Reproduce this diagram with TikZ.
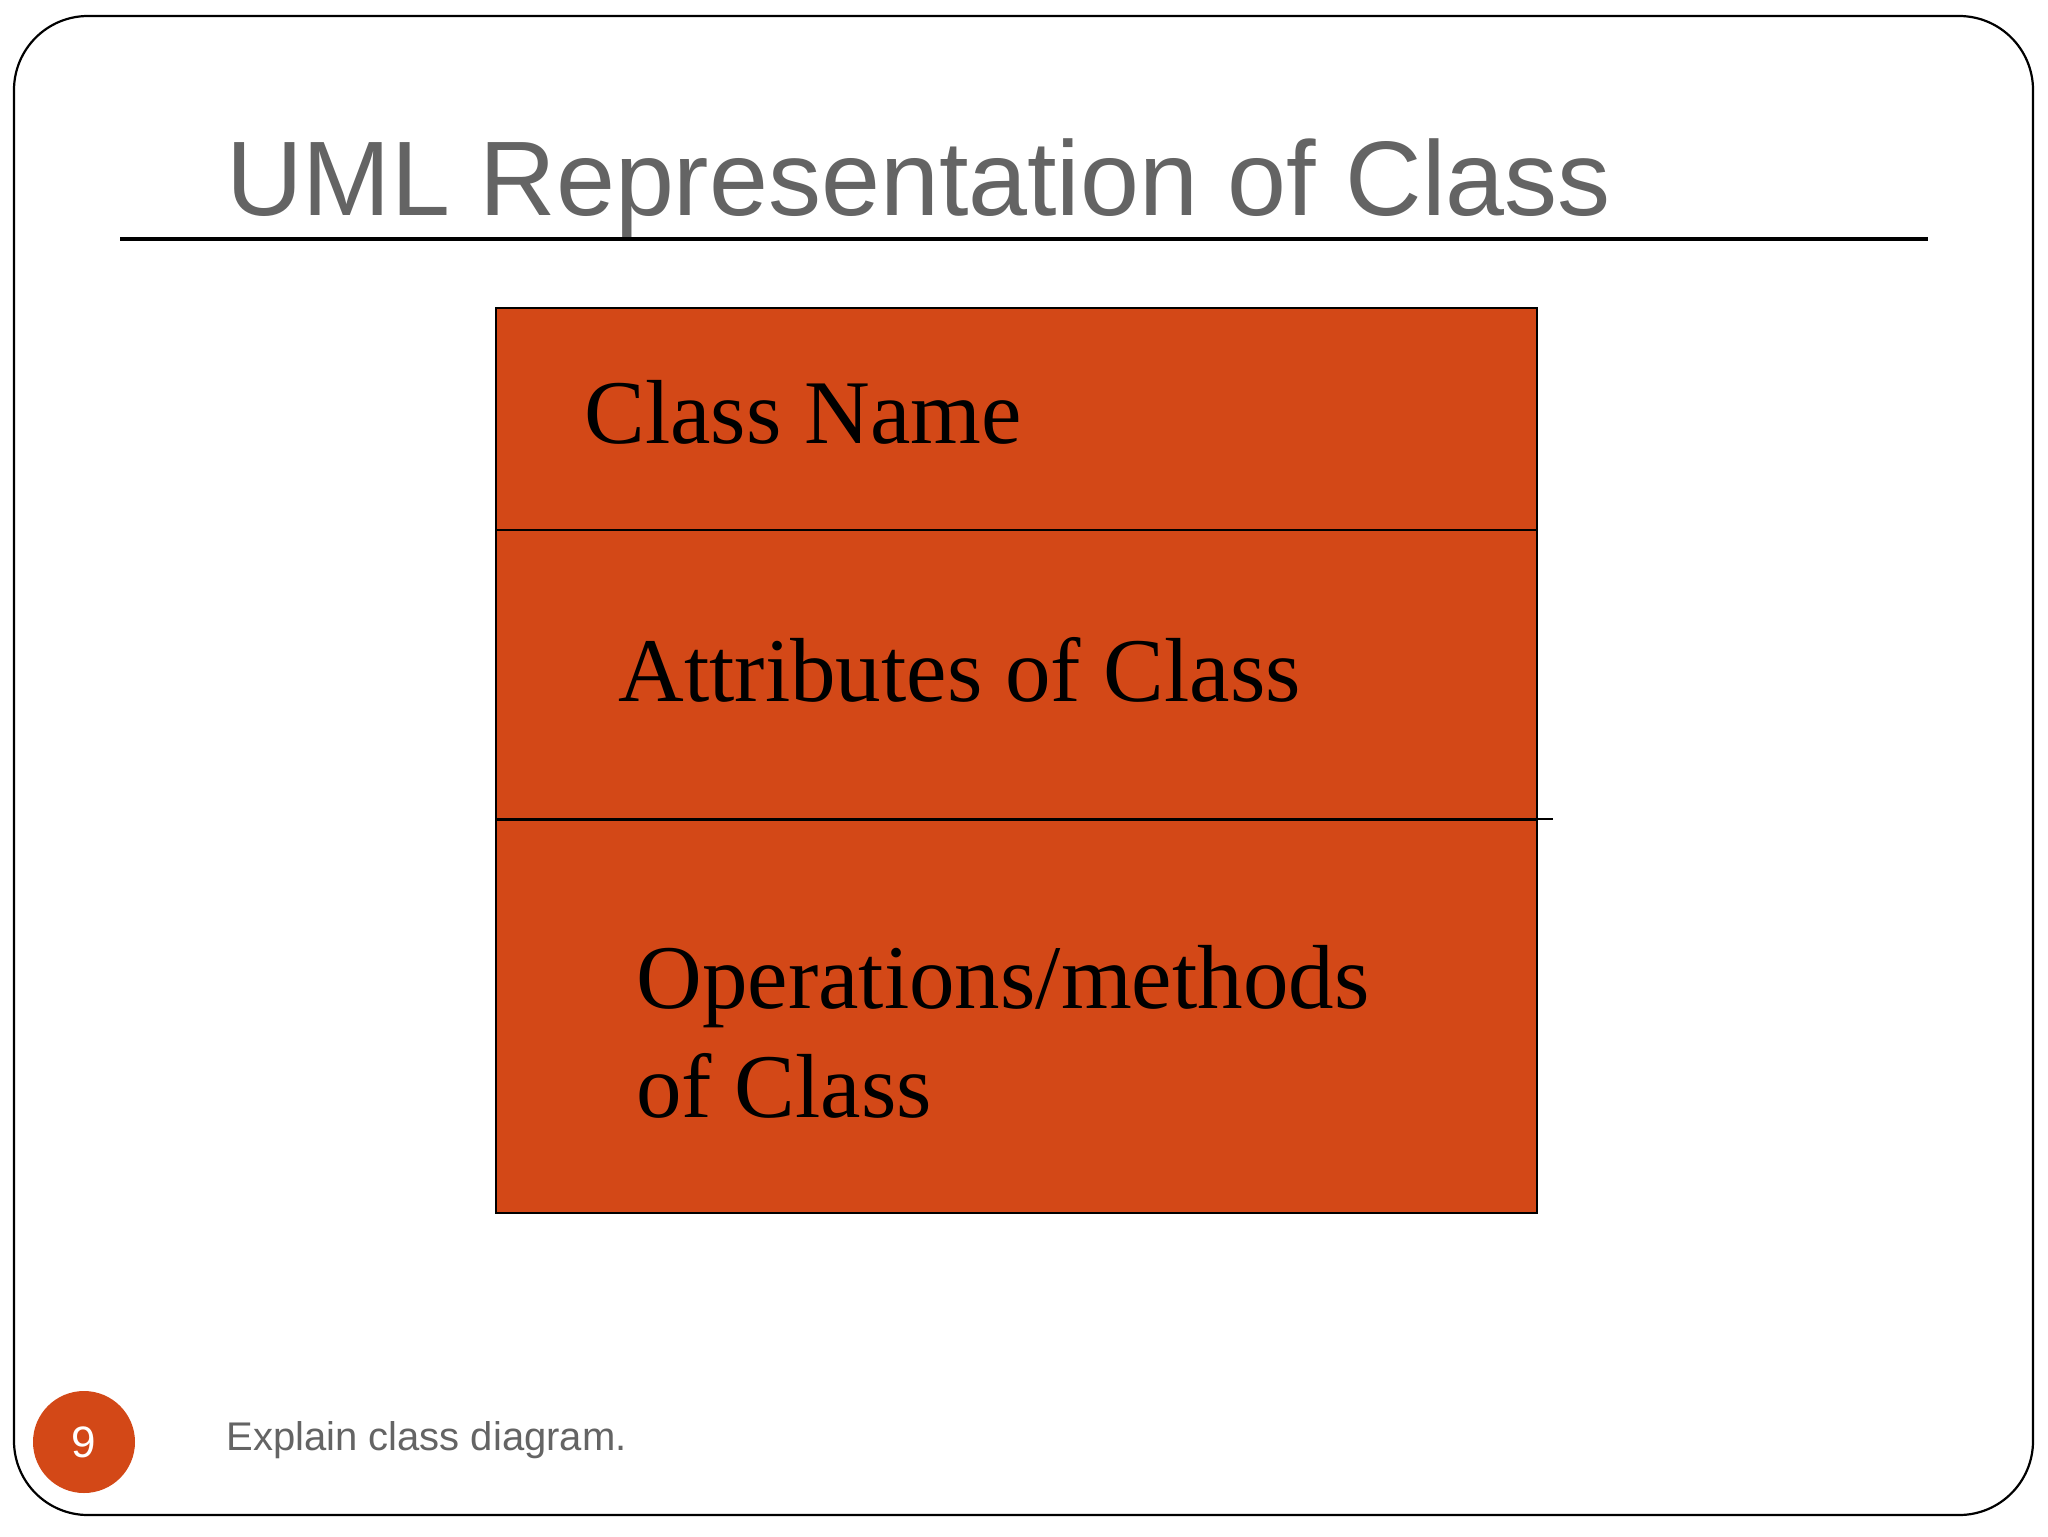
\documentclass[tikz,border=0pt]{standalone}
\usepackage{fontspec}
\setmainfont{Liberation Serif}
\setsansfont{Liberation Sans}
\definecolor{boxfill}{HTML}{D34817}
\definecolor{txtgray}{HTML}{646464}
\tikzset{
  px/.style={x=0.5pt,y=-0.5pt},
  comp/.style={draw=black,line width=1pt,fill=boxfill,rectangle,inner sep=0pt,anchor=north west,minimum width=520.5pt},
  serif/.style={anchor=base west,inner sep=0pt,font=\fontsize{45.5pt}{54pt}\selectfont\rmfamily,text=black},
}
\begin{document}
\begin{tikzpicture}[px]
\useasboundingbox (0,0) rectangle (2048,1536);
\fill[white] (0,0) rectangle (2048,1536);
% frame
\draw[line width=1.1pt,rounded corners=37pt] (14,16) rectangle (2033,1515);
% title
\node[anchor=base west,inner sep=0pt,text=txtgray,font=\fontsize{53pt}{60pt}\selectfont\sffamily] (title) at (226,215) {UML Representation of Class};
\draw[line width=2.4pt] (120,239) -- (1928,239);
% class box
\node[comp,minimum height=111pt] (c1) at (495,307) {};
\node[comp,minimum height=145pt] (c2) at (495,529) {};
\node[comp,minimum height=196.5pt] (c3) at (495,819) {};
\coordinate (ext) at (1553,819);
\draw[line width=1pt] (c3.north west) -- (ext);
\node[serif] (cname) at (584,443) {Class Name};
\node[serif] (attrs) at (618,701) {Attributes of Class};
\node[serif,align=left] (ops) at (636,1008) {Operations/methods};
\node[serif] (ops2) at (636,1117) {of Class};
% footer
\node[circle,fill=boxfill,minimum size=51pt,inner sep=0pt] (num) at (84,1442) {};
\node[text=white,font=\fontsize{22pt}{24pt}\selectfont\sffamily] (numtxt) at (num.center) {9};
\node[anchor=base west,inner sep=0pt,text=txtgray,font=\fontsize{20pt}{24pt}\selectfont\sffamily] (footer) at (226,1450) {Explain class diagram.};
\end{tikzpicture}
\end{document}
